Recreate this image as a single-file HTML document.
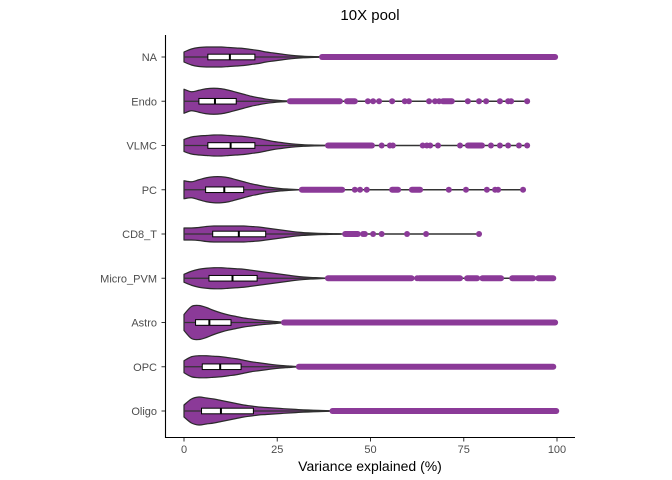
<!DOCTYPE html>
<html><head><meta charset="utf-8"><style>
html,body{margin:0;padding:0;background:#fff;}
svg{display:block;font-family:"Liberation Sans",Arial,sans-serif;}
</style></head><body>
<svg id="chart" width="672" height="480" viewBox="0 0 672 480" xmlns="http://www.w3.org/2000/svg">
<text x="370" y="20" text-anchor="middle" font-size="15" fill="#000">10X pool</text>
<g id="plot"></g>
<line x1="165.5" y1="35" x2="165.5" y2="438" stroke="#000" stroke-width="1.1"/>
<line x1="165" y1="437.5" x2="575" y2="437.5" stroke="#000" stroke-width="1.1"/>
<g id="axes"></g>
<text x="370" y="471" text-anchor="middle" font-size="14" fill="#000">Variance explained (%)</text>
</svg>
<script>
const categories = ["NA","Endo","VLMC","PC","CD8_T","Micro_PVM","Astro","OPC","Oligo"];
const xTicks = [0,25,50,75,100];
const densityGrid = [0,2,4,6,8,10,12,14,16,18,20,22,24,26,28,30,32,34,36,38,40,42];
const densNA    = [5,8,9.5,10,10,10,9.5,9,8.5,7.5,6.5,5,4,3,2,1.3,0.8,0.5,0.3,0,0,0];
const densEndo  = [12,9.5,11,12.5,13,12.5,11,9,7,5,3.5,2.2,1.3,0.7,0.3,0,0,0,0,0,0,0];
const densVLMC  = [6,8.5,9.5,10,10.5,10.5,10,9.5,9,8,7,5.5,4,3,2,1.3,0.8,0.5,0.3,0,0,0];
const densPC    = [9,8,10,12,13,13,12,10,8,6,4.5,3,2,1.2,0.7,0.3,0,0,0,0,0,0];
const densCD8   = [6,6,6.5,7.5,8,8,8,8,8,7.5,7,6,5,4,3,2,1.4,1,0.7,0.5,0.3,0.1];
const densMicro = [4,7,9,10,10.5,10.5,10,9.5,9,8,7,6,5,4,3,2,1.3,0.8,0.5,0.2,0,0];
const densAstro = [8,16,17,15,12,9.5,7.5,6,4.5,3.5,2.5,1.8,1.2,0.5,0,0,0,0,0,0,0,0];
const densOPC   = [6,10,11,11,10.5,10,9,8,6.5,5,4,3,2,1.3,0.8,0.3,0,0,0,0,0,0];
const densOligo = [6,12,14,13,12,10.5,9,7.5,6,5,4,3.5,3,2.5,2,1.6,1.2,0.9,0.6,0.4,0,0];
const densities = [densNA,densEndo,densVLMC,densPC,densCD8,densMicro,densAstro,densOPC,densOligo];
const q1s     = [6.4,4.0,6.4,5.8,7.7,6.7,3.1,4.9,4.7];
const medians = [12.3,8.3,12.5,10.8,14.7,13.0,6.8,9.7,9.9];
const q3s     = [19.0,14.0,19.0,16.0,21.9,19.6,12.6,15.3,18.6];
const denseNA    = [[37,99.5]];
const denseEndo  = [[28.4,41.8],[43.7,45.8],[69.4,71.8]];
const denseVLMC  = [[38.6,50.4],[76.1,79.9]];
const densePC    = [[31.6,42.4],[55.8,57.4],[61.1,63.3]];
const denseCD8   = [[43.2,46.6]];
const denseMicro = [[38.6,61],[63,74],[75.9,78.6],[80,85],[88,93.6],[95,99]];
const denseAstro = [[26.8,99.5]];
const denseOPC   = [[30.8,99]];
const denseOligo = [[39.8,99.8]];
const denseRanges = [denseNA,denseEndo,denseVLMC,densePC,denseCD8,denseMicro,denseAstro,denseOPC,denseOligo];
const ptsNA    = [];
const ptsEndo  = [49.3,50.7,52.3,55.8,59.2,60.3,65.7,67.3,68.4,76.1,79.1,81,84.7,86.9,87.7,92];
const ptsVLMC  = [53,55.2,56,64,65.1,66,68.1,74,82.3,84.7,86.9,89.8,92];
const ptsPC    = [45.8,47.2,49,71,75.6,81.2,83.4,84.2,90.9];
const ptsCD8   = [48,48.5,50.7,53,59.8,64.9,79.1];
const ptsMicro = [62.5];
const ptsAstro = [];
const ptsOPC   = [];
const ptsOligo = [];
const outlierPoints = [ptsNA,ptsEndo,ptsVLMC,ptsPC,ptsCD8,ptsMicro,ptsAstro,ptsOPC,ptsOligo];

const NS='http://www.w3.org/2000/svg';
const x = v => 184 + v*3.73;
const y = i => 57 + i*44.25;
const plot = document.getElementById('plot');
const axes = document.getElementById('axes');
const PURPLE = '#8B3A98';
function mk(tag, attrs, parent){const e=document.createElementNS(NS,tag);for(const k in attrs)e.setAttribute(k,attrs[k]);parent.appendChild(e);return e;}
function smooth(pts){
  let s='M'+pts[0][0]+','+pts[0][1];
  for(let k=0;k<pts.length-1;k++){
    const p0=pts[Math.max(k-1,0)],p1=pts[k],p2=pts[k+1],p3=pts[Math.min(k+2,pts.length-1)];
    const c1=[p1[0]+(p2[0]-p0[0])/6,p1[1]+(p2[1]-p0[1])/6];
    const c2=[p2[0]-(p3[0]-p1[0])/6,p2[1]-(p3[1]-p1[1])/6];
    s+='C'+c1[0]+','+c1[1]+' '+c2[0]+','+c2[1]+' '+p2[0]+','+p2[1];
  }
  return s;
}

categories.forEach((cat,i)=>{
  const cy=y(i);
  const g=mk('g',{},plot);
  
  
  const allPts=[...outlierPoints[i]];
  denseRanges[i].forEach(r=>{allPts.push(r[1]);});
  const maxV=Math.max(...allPts);
  const wl=mk('line',{x1:x(0),y1:cy,x2:x(maxV),y2:cy,stroke:'#333','stroke-width':1.5},g);
  
  
  const d=densities[i];
  let last=d.length-1; while(last>0&&d[last-1]===0)last--;
  const topPts=[],botPts=[];
  for(let k=0;k<=last;k++){topPts.push([x(densityGrid[k]),cy-d[k]]);}
  for(let k=last;k>=0;k--){botPts.push([x(densityGrid[k]),cy+d[k]]);}
  const path=smooth(topPts)+smooth(botPts).replace('M','L')+'Z';
  const vp=mk('path',{d:path,fill:PURPLE,stroke:'#2b2b2b','stroke-width':1.2,'stroke-linejoin':'round'},g);
  
  
  const cl=mk('line',{x1:x(0),y1:cy,x2:x(densityGrid[last]),y2:cy,stroke:'#333','stroke-width':1.3},g);
  
  
  const bx=mk('rect',{x:x(q1s[i]),y:cy-2.8,width:x(q3s[i])-x(q1s[i]),height:5.6,fill:'#fff',stroke:'#000','stroke-width':1},g);
  
  
  const md=mk('line',{x1:x(medians[i]),y1:cy-3,x2:x(medians[i]),y2:cy+3,stroke:'#000','stroke-width':2},g);
  
  
  denseRanges[i].forEach(r=>{
    const l=mk('line',{x1:x(r[0]),y1:cy,x2:x(r[1]),y2:cy,stroke:PURPLE,'stroke-width':6,'stroke-linecap':'round'},g);
    
    
  });
  outlierPoints[i].forEach(v=>{
    const c=mk('circle',{cx:x(v),cy:cy,r:3,fill:PURPLE},g);
    
    
  });
  const t=mk('line',{x1:161.5,y1:cy,x2:165,y2:cy,stroke:'#333','stroke-width':1},axes);
  
  
  const lb=mk('text',{x:157,y:cy+4,'text-anchor':'end','font-size':11,fill:'#4d4d4d'},axes);
  lb.textContent=cat;
  
  
});
xTicks.forEach(v=>{
  const t=mk('line',{x1:x(v),y1:438,x2:x(v),y2:441.5,stroke:'#333','stroke-width':1},axes);
  
  
  const lb=mk('text',{x:x(v),y:453,'text-anchor':'middle','font-size':11,fill:'#4d4d4d'},axes);
  lb.textContent=v;
  
  
});
</script>
</body></html>
